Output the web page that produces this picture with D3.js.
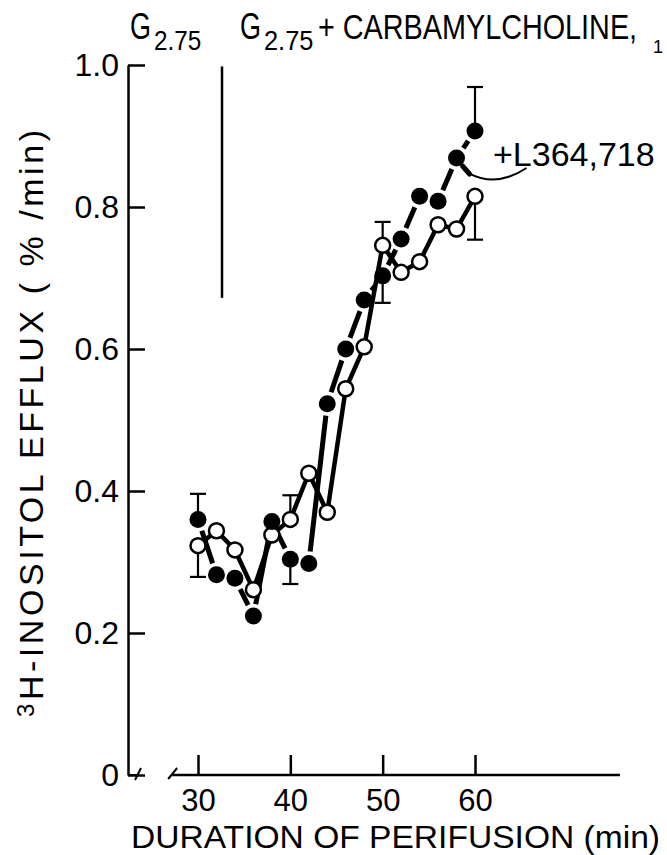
<!DOCTYPE html>
<html>
<head>
<meta charset="utf-8">
<script src="https://cdn.jsdelivr.net/npm/d3@7"></script>
<style>
  body { margin: 0; background: #fff; }
  svg text { font-family: "Liberation Sans Narrow", "Liberation Sans", "DejaVu Sans Condensed", sans-serif; fill: #000; }
</style>
</head>
<body>
<div id="chart"></div>
<script>
// perifusion time (min)
const times = [30, 32, 34, 36, 38, 40, 42, 44, 46, 48, 50, 52, 54, 56, 58, 60]

// filled circles, dashed line: G2.75 + carbamylcholine + L364,718
const withL = [0.360, 0.282, 0.277, 0.224, 0.357, 0.304, 0.298, 0.523, 0.600, 0.669,
               0.703, 0.755, 0.815, 0.808, 0.869, 0.907]

// open circles, solid line: G2.75 + carbamylcholine
const withoutL = [0.323, 0.344, 0.317, 0.261, 0.338, 0.360, 0.425, 0.370, 0.544, 0.603,
                  0.746, 0.708, 0.723, 0.775, 0.769, 0.815]

// error bars (one side each)
const errTimes = [30, 40, 50, 60]
const withLErrEnd = [0.396, 0.269, 0.665, 0.969]
const withoutLErrEnd = [0.279, 0.394, 0.779, 0.754]

const yTicks = [0, 0.2, 0.4, 0.6, 0.8, 1.0]
const yTickLabels = ["0", "0.2", "0.4", "0.6", "0.8", "1.0"]
const xTicks = [30, 40, 50, 60]

// carbamylcholine added
const stimTime = 32.6
const stimRange = [0.672, 0.998]

const width = 667, height = 855

const svg = d3.select("#chart").append("svg")
    .attr("width", width)
    .attr("height", height)

const x = d3.scaleLinear().domain([30, 60]).range([198, 475])
const y = d3.scaleLinear().domain([0, 1]).range([775, 65])

const yAxis = d3.axisLeft(y)
    .tickValues(yTicks)
    .tickFormat((d, i) => yTickLabels[i])
    .tickSizeInner(-17)
    .tickSizeOuter(0)
    .tickPadding(9)

const xAxis = d3.axisBottom(x)
    .tickValues(xTicks)
    .tickSizeInner(-20)
    .tickSizeOuter(0)
    .tickPadding(14)

const gy = svg.append("g")
    .attr("transform", "translate(128,0)")
    .call(yAxis)
gy.selectAll("line, path").attr("stroke", "#000").attr("stroke-width", 2.5)
gy.selectAll("text").attr("font-size", 32).attr("fill", "#000")

const gx = svg.append("g")
    .attr("transform", `translate(0,${y(0)})`)
    .call(xAxis)
gx.select(".domain").remove()
gx.selectAll("line").attr("stroke", "#000").attr("stroke-width", 2.5)
gx.selectAll("text").attr("font-size", 31).attr("fill", "#000")

// x axis line with break at the left
svg.append("line")
    .attr("x1", x(27.2)).attr("x2", x(75.7))
    .attr("y1", y(0)).attr("y2", y(0))
    .attr("stroke", "#000").attr("stroke-width", 2.5)

// axis break marks
svg.append("path")
    .attr("d", `M128,${y(0)} H137 M135,${y(0) + 5} L141,${y(0) - 7}`)
    .attr("fill", "none").attr("stroke", "#000").attr("stroke-width", 2)
svg.append("path")
    .attr("d", `M${x(27.2) - 4},${y(0) + 4} L${x(27.2) + 5},${y(0) - 7}`)
    .attr("fill", "none").attr("stroke", "#000").attr("stroke-width", 2)

// stimulus marker
svg.append("line")
    .attr("x1", x(stimTime)).attr("x2", x(stimTime))
    .attr("y1", y(stimRange[1])).attr("y2", y(stimRange[0]))
    .attr("stroke", "#000").attr("stroke-width", 2.5)

// error bars
function errorBars(vals, ends){
    errTimes.forEach((t, i) => {
        const v = vals[times.indexOf(t)]
        const g = svg.append("g").attr("stroke", "#000").attr("stroke-width", 2.2)
        g.append("line")
            .attr("x1", x(t)).attr("x2", x(t))
            .attr("y1", y(v)).attr("y2", y(ends[i]))
        g.append("line")
            .attr("x1", x(t) - 8).attr("x2", x(t) + 8)
            .attr("y1", y(ends[i])).attr("y2", y(ends[i]))
    })
}
errorBars(withL, withLErrEnd)
errorBars(withoutL, withoutLErrEnd)

// open series: solid line
const line = d3.line()
    .x((d, i) => x(times[i]))
    .y(d => y(d))

svg.append("path")
    .datum(withoutL)
    .attr("d", line)
    .attr("fill", "none")
    .attr("stroke", "#000")
    .attr("stroke-width", 4.5)
    .attr("stroke-linejoin", "round")

// filled series: broken line, each segment cut short near the circles
const gap = 12
const segs = d3.pairs(withL.map((v, i) => [x(times[i]), y(v)]))
svg.append("g").selectAll("line")
    .data(segs)
    .join("line")
    .each(function([a, b]){
        const dx = b[0] - a[0], dy = b[1] - a[1]
        const len = Math.hypot(dx, dy)
        if (len < 2 * gap + 2) return
        const ux = dx / len, uy = dy / len
        d3.select(this)
            .attr("x1", a[0] + ux * gap).attr("y1", a[1] + uy * gap)
            .attr("x2", b[0] - ux * gap).attr("y2", b[1] - uy * gap)
    })
    .attr("stroke", "#000")
    .attr("stroke-width", 5)

svg.append("g").selectAll("circle")
    .data(withoutL)
    .join("circle")
    .attr("cx", (d, i) => x(times[i]))
    .attr("cy", d => y(d))
    .attr("r", 7.5)
    .attr("fill", "#fff")
    .attr("stroke", "#000")
    .attr("stroke-width", 2.5)

svg.append("g").selectAll("circle")
    .data(withL)
    .join("circle")
    .attr("cx", (d, i) => x(times[i]))
    .attr("cy", d => y(d))
    .attr("r", 8.5)
    .attr("fill", "#000")

// leader to +L364,718
const lx = x(58), ly = y(withL[times.indexOf(58)])
svg.append("path")
    .attr("d", `M${lx + 6},${ly + 8} L${lx + 13},${ly + 16}`)
    .attr("stroke", "#000").attr("stroke-width", 5).attr("stroke-linecap", "round")
svg.append("path")
    .attr("d", `M${lx + 12},${ly + 15} Q${lx + 40},${ly + 30} ${lx + 70},${ly + 10}`)
    .attr("fill", "none").attr("stroke", "#000").attr("stroke-width", 2)

svg.append("text")
    .attr("transform", "translate(493,166)")
    .attr("font-size", 34)
    .text("+L364,718")

// header conditions, letters squeezed horizontally like the original lettering
function squeezed(str, px, py, size, sx){
    return svg.append("text")
        .attr("transform", `translate(${px},${py}) scale(${sx},1)`)
        .attr("font-size", size)
        .text(str)
}
squeezed("G", 130, 39, 36, 0.75)
squeezed("2.75", 154, 50, 27, 0.9)
squeezed("G", 240, 39, 36, 0.75)
squeezed("2.75", 264, 50, 27, 0.94)
squeezed("+ CARBAMYLCHOLINE,", 318, 39, 36, 0.8)
svg.append("text").attr("x", 653).attr("y", 53).attr("font-size", 18).text("1")

// axis titles
svg.append("text")
    .attr("x", 131).attr("y", 848)
    .attr("font-size", 32)
    .attr("textLength", 529)
    .attr("lengthAdjust", "spacingAndGlyphs")
    .text("DURATION OF PERIFUSION (min)")

const yl = svg.append("text")
    .attr("transform", "translate(43,717) rotate(-90)")
    .attr("font-size", 34)
    .attr("textLength", 587)
    .attr("lengthAdjust", "spacing")
yl.append("tspan").attr("font-size", 24).attr("dy", -9).text("3")
yl.append("tspan").attr("dy", 9).text("H-INOSITOL EFFLUX ( % /min)")
</script>
</body>
</html>
